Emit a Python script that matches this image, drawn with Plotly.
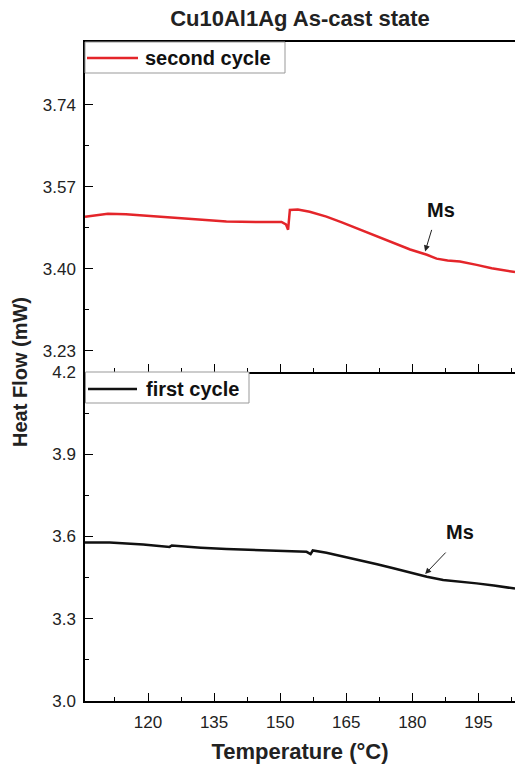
import plotly.graph_objects as go

# ---- data ----
temp_second = [105.7, 110.9, 115.0, 122.7, 130.0, 137.8, 145.0, 150.3, 151.3, 151.8,
               152.2, 154.0, 156.7, 160.5, 164.0, 168.1, 172.0, 175.7, 179.5, 183.3,
               185.5, 188.0, 190.8, 194.6, 198.0, 203.3]
heat_second = [3.508, 3.514, 3.513, 3.508, 3.503, 3.498, 3.497, 3.497, 3.492, 3.481,
               3.522, 3.523, 3.518, 3.508, 3.496, 3.481, 3.467, 3.453, 3.440, 3.429,
               3.421, 3.417, 3.415, 3.408, 3.401, 3.393]

temp_first = [105.7, 111.3, 118.9, 124.9, 125.4, 126.1, 132.0, 137.8, 145.0, 152.0,
              156.0, 156.9, 157.4, 160.5, 164.0, 168.1, 172.0, 175.7, 179.5, 183.3,
              187.0, 190.8, 194.6, 198.5, 203.3]
heat_first = [3.578, 3.578, 3.571, 3.562, 3.567, 3.566, 3.559, 3.554, 3.550, 3.547,
              3.544, 3.536, 3.549, 3.541, 3.529, 3.514, 3.499, 3.484, 3.468, 3.453,
              3.441, 3.436, 3.429, 3.421, 3.410]

x_range = [105.7, 203.3]
top_range = [3.186, 3.87]
bottom_range = [3.0, 4.2]

# Ms markers: (arrow head T, heat), text position
ms_top = dict(head=(182.9, 3.436), text=(186.5, 3.521))
ms_bottom = dict(head=(182.9, 3.463), text=(190.8, 3.617))

FONT = "Liberation Sans, Arial, sans-serif"
RED = "#e4252a"
BLACK = "#111111"

W, H = 515, 764
ML, MR, MT, MB = 85, 0, 42, 63
PW, PH = W - ML - MR, H - MT - MB
split = 329 / PH


def px(xpix):
    return (xpix - ML) / PW


def py(ypix):
    return (H - MB - ypix) / PH


fig = go.Figure()
fig.add_trace(go.Scatter(x=temp_first, y=heat_first, mode="lines", name="first cycle",
                         line=dict(color=BLACK, width=2.5), xaxis="x", yaxis="y"))
fig.add_trace(go.Scatter(x=temp_second, y=heat_second, mode="lines", name="second cycle",
                         line=dict(color=RED, width=2.5), xaxis="x2", yaxis="y2"))

axis_common = dict(showline=True, linecolor="black", linewidth=1.5, ticks="inside",
                   ticklen=8, tickwidth=1.2, tickcolor="black", showgrid=False,
                   zeroline=False, automargin=False,
                   tickfont=dict(family=FONT, size=17, color="#222"))

fig.update_layout(
    width=W, height=H,
    margin=dict(l=ML, r=MR, t=MT, b=MB, pad=0),
    plot_bgcolor="white", paper_bgcolor="white",
    showlegend=False,
    title=dict(text="<b>Cu10Al1Ag As-cast state</b>", x=300 / W, xref="container",
               xanchor="center", y=1 - 18 / H, yref="container", yanchor="middle",
               automargin=False,
               font=dict(family=FONT, size=22, color="#222")),
    xaxis=dict(domain=[0, 1], range=x_range, anchor="y", tick0=120, dtick=15,
               ticklabelstandoff=5,
               minor=dict(dtick=7.5, ticklen=4, ticks="inside", tickcolor="black"),
               title=dict(text="<b>Temperature (°C)</b>", standoff=15,
                          font=dict(family=FONT, size=22, color="#222")),
               **axis_common),
    yaxis=dict(domain=[0, split], range=bottom_range, anchor="x", tick0=3.0, dtick=0.3,
               tickformat=".1f", ticklabelstandoff=4,
               minor=dict(dtick=0.15, ticklen=4, ticks="inside", tickcolor="black"),
               **axis_common),
    xaxis2=dict(domain=[0, 1], range=x_range, anchor="y2", matches="x", tick0=120,
                dtick=15, showticklabels=False, mirror=True,
                minor=dict(dtick=7.5, ticklen=4, ticks="inside", tickcolor="black"),
                **axis_common),
    yaxis2=dict(domain=[split, 1], range=top_range, anchor="x2", tick0=3.23, dtick=0.17,
                tickformat=".2f", ticklabelstandoff=4,
                minor=dict(dtick=0.085, ticklen=4, ticks="inside", tickcolor="black"),
                **axis_common),
)

# y axis title shared
fig.add_annotation(text="<b>Heat Flow (mW)</b>", xref="paper", yref="paper",
                   x=px(20), y=split, xanchor="center", yanchor="middle",
                   textangle=-90, showarrow=False,
                   font=dict(family=FONT, size=20, color="#222"))

# legends drawn as boxed keys
legend_boxes = [
    # (box x0,x1,y0,y1 in pixels, line x0,x1,y, text x, label, colour)
    ((85, 285, 42, 73), (87, 138, 58), 143, "second cycle", RED),
    ((85.5, 249, 372, 403), (88, 137, 389), 144, "first cycle", BLACK),
]
for (bx0, bx1, by0, by1), (lx0, lx1, ly), tx, label, col in legend_boxes:
    fig.add_shape(type="rect", xref="paper", yref="paper", x0=px(bx0), x1=px(bx1),
                  y0=py(by1), y1=py(by0), line=dict(color="#999", width=1),
                  fillcolor="white", layer="above")
    fig.add_shape(type="line", xref="paper", yref="paper", x0=px(lx0), x1=px(lx1),
                  y0=py(ly), y1=py(ly), line=dict(color=col, width=2.5), layer="above")
    fig.add_annotation(text=f"<b>{label}</b>", xref="paper", yref="paper", x=px(tx),
                       y=py(ly), xanchor="left", yanchor="middle", showarrow=False,
                       font=dict(family=FONT, size=20, color="#111"))

for ms, xr, yr, ax, ay in [(ms_top, "x2", "y2", 7, -23), (ms_bottom, "x", "y", 22, -23)]:
    fig.add_annotation(x=ms["head"][0], y=ms["head"][1], xref=xr, yref=yr, text="",
                       showarrow=True, arrowhead=2, arrowsize=1.2, arrowwidth=1,
                       arrowcolor="#222", ax=ax, ay=ay)
    fig.add_annotation(x=ms["text"][0], y=ms["text"][1], xref=xr, yref=yr,
                       text="<b>Ms</b>", showarrow=False,
                       font=dict(family=FONT, size=20, color="#111"))

fig.write_html("out.html", config={"displayModeBar": False},
               post_script="document.body.style.margin='0';"
                           "document.body.style.overflow='hidden';")
